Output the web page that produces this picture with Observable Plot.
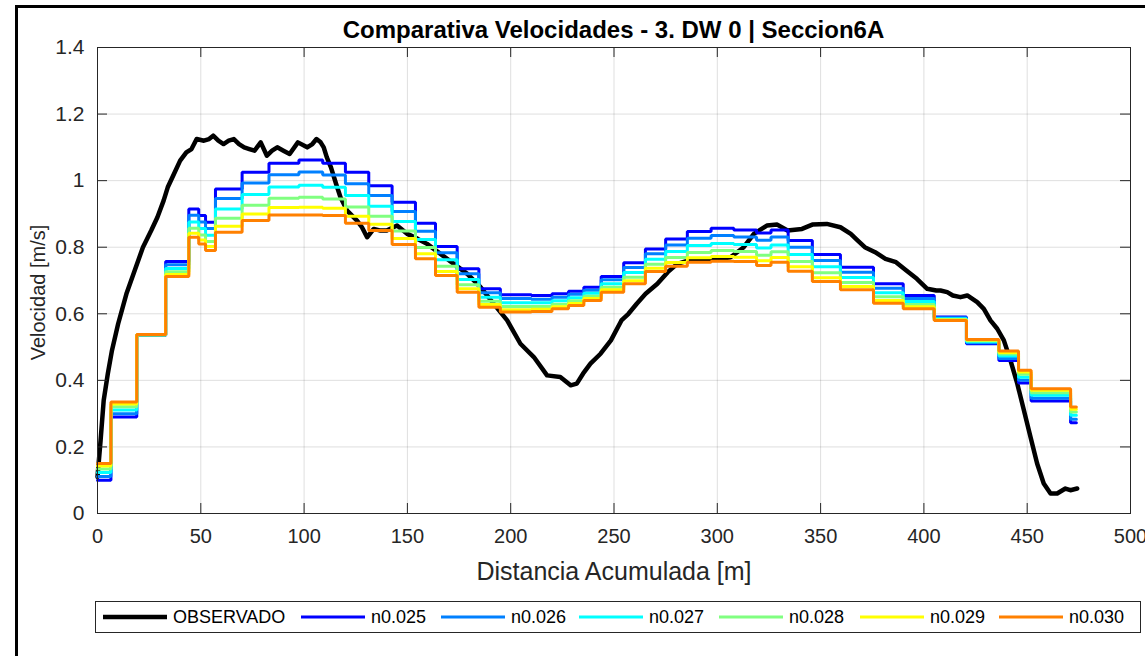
<!DOCTYPE html>
<html>
<head>
<meta charset="utf-8">
<script src="https://cdn.jsdelivr.net/npm/d3@7"></script>
<script src="https://cdn.jsdelivr.net/npm/@observablehq/plot@0.6"></script>
<style>
  html, body { margin: 0; padding: 0; background: #fff; }
  #wrap { position: relative; width: 1145px; height: 656px; overflow: hidden; font-family: "Liberation Sans", Arial, sans-serif; }
  #border { position: absolute; left: 15px; top: 5px; width: 1200px; height: 700px; border-left: 3px solid #000; border-top: 3px solid #000; }
  #title { position: absolute; left: 97px; width: 1033px; top: 15px; text-align: center; font-size: 24px; font-weight: bold; color: #000; line-height: 30px; }
  #chart { position: absolute; left: 0; top: 0; }
  #legend { position: absolute; left: 95px; top: 601px; width: 1044px; height: 30px; border: 1px solid #262626; background: #fff; }
  .li { position: absolute; top: 0; height: 30px; }
  .li svg { position: absolute; top: 0; }
  .li span { position: absolute; top: 5px; font-size: 18px; color: #000; white-space: nowrap; }
</style>
</head>
<body>
<div id="wrap">
  <div id="border"></div>
  <div id="chart"></div>
  <div id="title"></div>
  <div id="legend"></div>
</div>
<script>
// ---------- data ----------
const titleText = "Comparativa Velocidades - 3. DW 0 | Seccion6A";
const xLabel = "Distancia Acumulada [m]";
const yLabel = "Velocidad [m/s]";
const xTicks = [0, 50, 100, 150, 200, 250, 300, 350, 400, 450, 500];
const yTicks = [0, 0.2, 0.4, 0.6, 0.8, 1, 1.2, 1.4];

// Observed velocity profile
const obsDist = [0, 1.5, 3, 5, 7, 10, 14, 18, 22, 26, 29, 32, 34, 37, 40, 43, 45.5, 48, 51.5, 54, 56, 58.5, 61, 63.5, 66, 68.5, 71, 73.5, 76, 79, 82, 84.5, 87, 90, 93, 97, 101.5, 104, 106, 108, 109.5, 111, 113, 115.5, 117.6, 120.8, 125.6, 128, 130.5, 133.7, 137, 140, 145, 150, 155, 159.5, 166, 172.5, 179, 185.4, 191.8, 198.3, 204.7, 211.2, 217.6, 224, 229, 232, 235, 238.6, 243.5, 248.5, 253.6, 257, 261, 265.3, 271, 276, 280.6, 287, 295, 301.5, 306.4, 312.8, 317.7, 324, 329, 334, 341, 346, 353, 359.6, 364.6, 368, 371.4, 376.4, 381.4, 386.5, 391.5, 396.6, 401.6, 406, 408, 411.3, 414, 417.7, 421, 425.8, 429, 432.2, 435.5, 438.7, 441.9, 445.2, 448.4, 451.6, 454.8, 458, 461.3, 464.5, 468.5, 470.9, 474.2];
const obsVel = [0.11, 0.22, 0.34, 0.42, 0.49, 0.57, 0.66, 0.73, 0.80, 0.85, 0.89, 0.94, 0.98, 1.02, 1.06, 1.085, 1.095, 1.125, 1.12, 1.125, 1.135, 1.12, 1.11, 1.12, 1.125, 1.11, 1.10, 1.095, 1.09, 1.115, 1.075, 1.09, 1.10, 1.09, 1.08, 1.115, 1.10, 1.11, 1.125, 1.115, 1.10, 1.07, 1.04, 0.99, 0.95, 0.91, 0.88, 0.86, 0.83, 0.855, 0.85, 0.85, 0.865, 0.84, 0.825, 0.81, 0.78, 0.75, 0.72, 0.68, 0.63, 0.58, 0.51, 0.47, 0.415, 0.41, 0.385, 0.39, 0.42, 0.45, 0.48, 0.52, 0.58, 0.60, 0.63, 0.66, 0.69, 0.725, 0.75, 0.762, 0.762, 0.765, 0.77, 0.80, 0.84, 0.865, 0.868, 0.85, 0.855, 0.868, 0.87, 0.86, 0.84, 0.82, 0.80, 0.785, 0.765, 0.755, 0.73, 0.705, 0.675, 0.67, 0.67, 0.665, 0.655, 0.65, 0.655, 0.635, 0.615, 0.58, 0.555, 0.52, 0.46, 0.39, 0.31, 0.23, 0.15, 0.09, 0.06, 0.06, 0.075, 0.07, 0.075];

// Modelled (stepwise) profiles: segment starts shared by all roughness values
const stepStart = [0, 6.5, 19, 33, 44.2, 49, 52.3, 57.1, 70, 83, 97.5, 109, 120, 131.3, 142.6, 153.9, 163.6, 174.1, 184.6, 195, 210, 220, 228, 235.4, 243.8, 254.7, 265.2, 275, 285.5, 297, 308, 319, 326, 334.3, 346, 359.6, 375.6, 390, 405, 420.6, 436.3, 445.8, 451.9, 471];
const stepEnd = 473.8;
const n025 = [0.100, 0.290, 0.535, 0.757, 0.915, 0.895, 0.875, 0.975, 1.025, 1.052, 1.062, 1.052, 1.025, 0.985, 0.935, 0.872, 0.802, 0.735, 0.675, 0.657, 0.655, 0.660, 0.668, 0.680, 0.712, 0.753, 0.795, 0.825, 0.847, 0.857, 0.852, 0.843, 0.852, 0.820, 0.778, 0.740, 0.690, 0.655, 0.590, 0.510, 0.460, 0.392, 0.338, 0.273];
const n026 = [0.111, 0.300, 0.536, 0.747, 0.896, 0.876, 0.856, 0.946, 0.993, 1.018, 1.026, 1.017, 0.991, 0.955, 0.907, 0.848, 0.783, 0.720, 0.663, 0.646, 0.644, 0.650, 0.659, 0.671, 0.702, 0.739, 0.780, 0.807, 0.827, 0.835, 0.831, 0.821, 0.831, 0.800, 0.760, 0.725, 0.677, 0.646, 0.588, 0.513, 0.466, 0.400, 0.346, 0.283];
const n027 = [0.123, 0.311, 0.536, 0.736, 0.876, 0.856, 0.836, 0.915, 0.958, 0.981, 0.986, 0.980, 0.955, 0.923, 0.877, 0.823, 0.762, 0.703, 0.650, 0.633, 0.633, 0.639, 0.648, 0.662, 0.690, 0.724, 0.764, 0.787, 0.805, 0.811, 0.808, 0.798, 0.807, 0.778, 0.741, 0.709, 0.663, 0.637, 0.585, 0.516, 0.473, 0.409, 0.355, 0.295];
const n028 = [0.134, 0.321, 0.537, 0.726, 0.857, 0.837, 0.817, 0.887, 0.926, 0.947, 0.950, 0.945, 0.921, 0.893, 0.849, 0.799, 0.743, 0.687, 0.638, 0.622, 0.622, 0.629, 0.639, 0.653, 0.680, 0.710, 0.749, 0.769, 0.784, 0.790, 0.787, 0.776, 0.786, 0.757, 0.723, 0.694, 0.651, 0.628, 0.583, 0.519, 0.479, 0.418, 0.363, 0.305];
const n029 = [0.143, 0.329, 0.537, 0.718, 0.842, 0.822, 0.802, 0.863, 0.900, 0.919, 0.920, 0.917, 0.893, 0.869, 0.826, 0.780, 0.727, 0.675, 0.628, 0.612, 0.614, 0.621, 0.631, 0.646, 0.672, 0.699, 0.737, 0.754, 0.768, 0.772, 0.770, 0.759, 0.769, 0.741, 0.708, 0.682, 0.640, 0.621, 0.581, 0.521, 0.484, 0.425, 0.370, 0.313];
const n030 = [0.150, 0.335, 0.538, 0.712, 0.830, 0.810, 0.790, 0.845, 0.880, 0.897, 0.897, 0.895, 0.872, 0.850, 0.808, 0.765, 0.715, 0.665, 0.620, 0.605, 0.607, 0.615, 0.625, 0.640, 0.665, 0.690, 0.727, 0.743, 0.755, 0.758, 0.757, 0.745, 0.755, 0.728, 0.697, 0.672, 0.632, 0.615, 0.580, 0.523, 0.488, 0.430, 0.375, 0.320];

const seriesNames = ["n0.025", "n0.026", "n0.027", "n0.028", "n0.029", "n0.030"];
const seriesValues = [n025, n026, n027, n028, n029, n030];
const seriesColors = ["#0000ff", "#0080ff", "#00ffff", "#80ff80", "#ffff00", "#ff8000"];
const obsName = "OBSERVADO";
const obsColor = "#000000";

// ---------- build tables ----------
const obsData = obsDist.map((d, i) => ({x: d, y: obsVel[i]}));
function stepData(vals) {
  const out = [];
  vals.forEach((v, i) => {
    const x0 = stepStart[i];
    const x1 = i + 1 < stepStart.length ? stepStart[i + 1] : stepEnd;
    out.push({x: x0, y: v}, {x: x1, y: v});
  });
  return out;
}

// ---------- layout ----------
const W = 1145, H = 590;
const mL = 97, mR = 15, mT = 47, mB = 77;
const frameW = W - mL - mR, frameH = H - mT - mB;
const tickLen = 10;
const axisColor = "#262626";

const marks = [
  Plot.gridX(xTicks, {stroke: "#000", strokeOpacity: 0.13, strokeWidth: 1}),
  Plot.gridY(yTicks, {stroke: "#000", strokeOpacity: 0.13, strokeWidth: 1}),
  Plot.line(obsData, {x: "x", y: "y", stroke: obsColor, strokeWidth: 4.5, strokeLinejoin: "round"}),
  ...seriesValues.map((vals, k) =>
    Plot.line(stepData(vals), {x: "x", y: "y", stroke: seriesColors[k], strokeWidth: 3, strokeLinejoin: "miter"})
  ),
  // inward ticks on all four sides (MATLAB box style)
  Plot.tickX(xTicks, {x: d => d, stroke: axisColor, insetTop: frameH - tickLen}),
  Plot.tickX(xTicks, {x: d => d, stroke: axisColor, insetBottom: frameH - tickLen}),
  Plot.tickY(yTicks, {y: d => d, stroke: axisColor, insetRight: frameW - tickLen}),
  Plot.tickY(yTicks, {y: d => d, stroke: axisColor, insetLeft: frameW - tickLen}),
  Plot.frame({stroke: axisColor, strokeWidth: 1}),
  Plot.axisX(xTicks, {tickSize: 0, tickPadding: 15, fontSize: 20, fill: axisColor, label: null, tickFormat: d => String(d)}),
  Plot.axisY(yTicks, {tickSize: 0, tickPadding: 13, fontSize: 21, fill: axisColor, label: null, tickFormat: d => String(d)}),
  Plot.text([xLabel], {text: d => d, frameAnchor: "bottom", dy: 58, fontSize: 25, fill: axisColor, lineAnchor: "middle", textAnchor: "middle"}),
  Plot.text([yLabel], {text: d => d, frameAnchor: "left", dx: -59, dy: 12, rotate: -90, fontSize: 20, fill: axisColor, lineAnchor: "middle", textAnchor: "middle"})
];

const chart = Plot.plot({
  width: W, height: H,
  marginLeft: mL, marginRight: mR, marginTop: mT, marginBottom: mB,
  style: {fontFamily: "Liberation Sans, Arial, sans-serif", background: "transparent", overflow: "visible"},
  x: {domain: [0, 500], ticks: xTicks},
  y: {domain: [0, 1.4], ticks: yTicks},
  marks
});
document.getElementById("chart").appendChild(chart);
document.getElementById("title").textContent = titleText;

// ---------- legend ----------
const legendItems = [{name: obsName, color: obsColor, w: 4.5}].concat(seriesNames.map((n, k) => ({name: n, color: seriesColors[k], w: 3})));
const legendLineStart = [7, 205, 345, 483, 623, 764, 903];
const lg = document.getElementById("legend");
legendItems.forEach((it, i) => {
  const div = document.createElement("div");
  div.className = "li";
  div.style.left = legendLineStart[i] + "px";
  const ns = "http://www.w3.org/2000/svg";
  const s = document.createElementNS(ns, "svg");
  s.setAttribute("width", 64); s.setAttribute("height", 30);
  const l = document.createElementNS(ns, "line");
  l.setAttribute("x1", 0); l.setAttribute("x2", 64);
  l.setAttribute("y1", 15); l.setAttribute("y2", 15);
  l.setAttribute("stroke", it.color); l.setAttribute("stroke-width", it.w);
  s.appendChild(l);
  div.appendChild(s);
  const sp = document.createElement("span");
  sp.style.left = "70px";
  sp.textContent = it.name;
  div.appendChild(sp);
  lg.appendChild(div);
});
</script>
</body>
</html>
